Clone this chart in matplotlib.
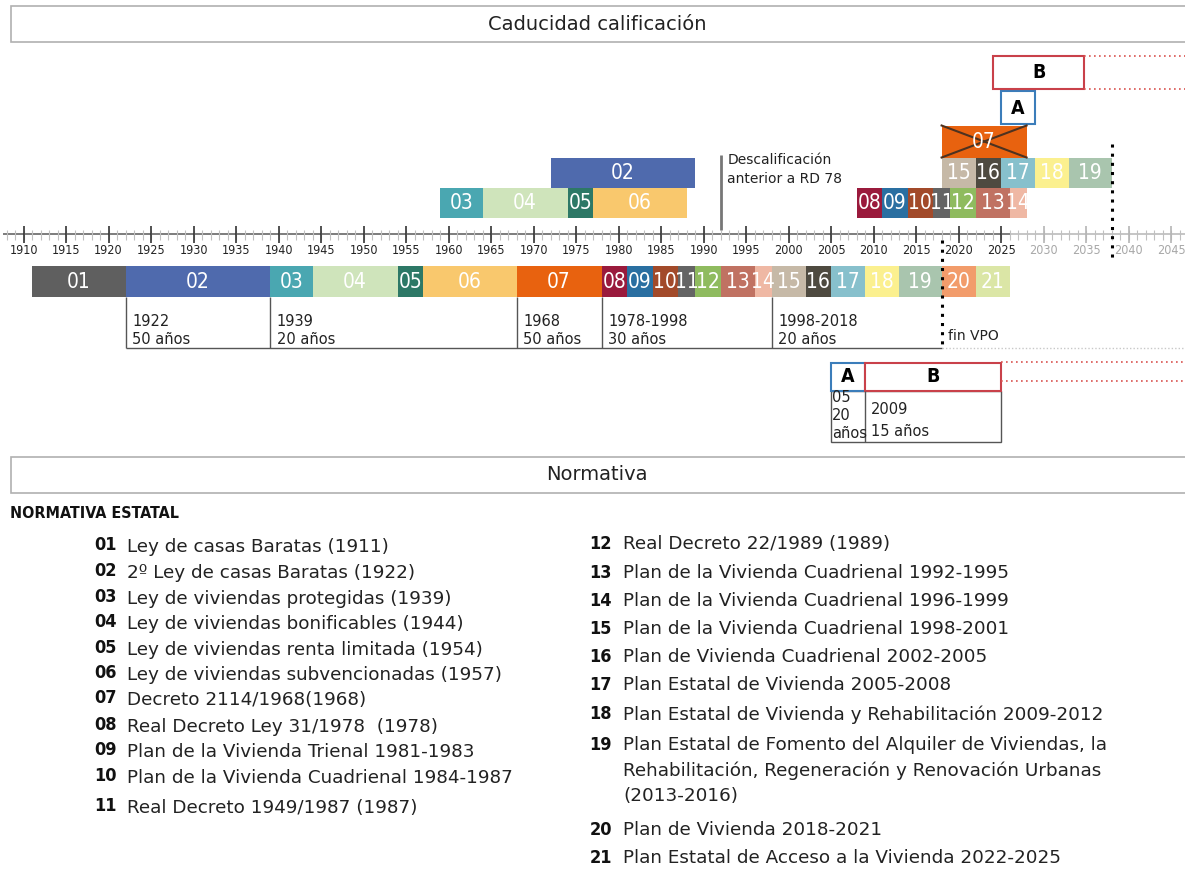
import matplotlib
matplotlib.use('Agg')
import matplotlib.pyplot as plt
from matplotlib.patches import Rectangle

# --- data -----------------------------------------------------------------
codes = ['01', '02', '03', '04', '05', '06', '07', '08', '09', '10', '11',
         '12', '13', '14', '15', '16', '17', '18', '19', '20', '21']
colors = ['#5f5f5f', '#4f6aad', '#4aa7b1', '#cfe4bb', '#2d7866', '#f9c86d',
          '#e8620f', '#9a1a3c', '#2a6fa1', '#a24a2a', '#646464', '#8fbb5f',
          '#c07262', '#efb8a4', '#c6b9a7', '#4e4a40', '#87c0cc', '#fbf08f',
          '#a9c5ae', '#f29c6b', '#dbe6a6']
starts = [1911, 1922, 1939, 1944, 1954, 1957, 1968, 1978, 1981, 1984, 1987,
          1989, 1992, 1996, 1998, 2002, 2005, 2009, 2013, 2018, 2022]
end_year = 2026

# expiry of qualification (upper rows)
row1_codes = ['03', '04', '05', '06', '08', '09', '10', '11', '12', '13', '14']
row1_start = [1959, 1964, 1974, 1977, 2008, 2011, 2014, 2017, 2019, 2022, 2026]
row1_end = [1964, 1974, 1977, 1988, 2011, 2014, 2017, 2019, 2022, 2026, 2028]
row2_codes = ['02', '15', '16', '17', '18', '19']
row2_start = [1972, 2018, 2022, 2025, 2029, 2033]
row2_end = [1989, 2022, 2025, 2029, 2033, 2038]
row3_codes = ['07']
row3_start = [2018]
row3_end = [2028]
a_span = (2025, 2029)
b_span = (2024.1, 2034.8)

bracket_years = [1922, 1939, 1968, 1978, 1998]
bracket_top = ['1922', '1939', '1968', '1978-1998', '1998-2018']
bracket_bot = ['50 años', '20 años', '50 años', '30 años', '20 años']
fin_vpo = 2018
descal_year = 1992
limit_year = 2038

tick_years = list(range(1910, 2046, 5))
minor_years = list(range(1908, 2047))

legend_left = ['Ley de casas Baratas (1911)',
               '2º Ley de casas Baratas (1922)',
               'Ley de viviendas protegidas (1939)',
               'Ley de viviendas bonificables (1944)',
               'Ley de viviendas renta limitada (1954)',
               'Ley de viviendas subvencionadas (1957)',
               'Decreto 2114/1968(1968)',
               'Real Decreto Ley 31/1978  (1978)',
               'Plan de la Vivienda Trienal 1981-1983',
               'Plan de la Vivienda Cuadrienal 1984-1987',
               'Real Decreto 1949/1987 (1987)']
legend_right = ['Real Decreto 22/1989 (1989)',
                'Plan de la Vivienda Cuadrienal 1992-1995',
                'Plan de la Vivienda Cuadrienal 1996-1999',
                'Plan de la Vivienda Cuadrienal 1998-2001',
                'Plan de Vivienda Cuadrienal 2002-2005',
                'Plan Estatal de Vivienda 2005-2008',
                'Plan Estatal de Vivienda y Rehabilitación 2009-2012',
                'Plan Estatal de Fomento del Alquiler de Viviendas, la\n'
                'Rehabilitación, Regeneración y Renovación Urbanas\n(2013-2016)',
                'Plan de Vivienda 2018-2021',
                'Plan Estatal de Acceso a la Vivienda 2022-2025']

col = dict(zip(codes, colors))
cond = dict(family='DejaVu Sans', fontstretch='condensed')

# --- figure ----------------------------------------------------------------
W, H = 1185, 874
fig = plt.figure(figsize=(W / 100, H / 100), dpi=100)
# layout axes in pixels
lay = fig.add_axes([0, 0, 1, 1])
lay.set_xlim(0, W)
lay.set_ylim(H, 0)
lay.axis('off')
# timeline axes: x in years, y in pixels
px_per_year = 8.5
x1910 = 23.6
ax = fig.add_axes([0, 0, 1, 1])
ax.set_xlim(1910 - x1910 / px_per_year, 1910 + (W - x1910) / px_per_year)
ax.set_ylim(H, 0)
ax.axis('off')
ax.patch.set_alpha(0)
xmax = ax.get_xlim()[1]

# header boxes
for y0, title in [(6, 'Caducidad calificación'), (457, 'Normativa')]:
    lay.add_patch(Rectangle((11, y0), 1200, 36, facecolor='white',
                            edgecolor='#b0b0b0', lw=1.2))
    lay.text(597, y0 + 18, title, ha='center', va='center', fontsize=14,
             color='#222222')

# axis
ax.hlines(234, 1907.6, 2026, color='#666666', lw=1.2)
ax.hlines(234, 2026, xmax, color='#bbbbbb', lw=1.2)
ax.vlines(minor_years, 230, 240, color='#c0c0c0', lw=0.8)
for yr in tick_years:
    c = '#333333' if yr <= 2025 else '#b5b5b5'
    ax.vlines(yr, 226, 243, color=c, lw=1.2)
    ax.text(yr, 250, str(yr), ha='center', va='center', fontsize=9,
            color='#222222' if yr <= 2025 else '#a8a8a8', **cond)

# bottom row: periods of each regulation
ends = starts[1:] + [end_year]
ax.barh(281.5, [e - s for s, e in zip(starts, ends)], left=starts,
        height=31, color=colors)
for c, s, e in zip(codes, starts, ends):
    ax.text((s + e) / 2, 282, c, ha='center', va='center', color='white',
            fontsize=15, **cond)


def draw_row(yc, cs, ss, es, h):
    ax.barh(yc, [e - s for s, e in zip(ss, es)], left=ss, height=h,
            color=[col[c] for c in cs])
    for c, s, e in zip(cs, ss, es):
        ax.text((s + e) / 2, yc + 0.5, c, ha='center', va='center',
                color='white', fontsize=15, **cond)


draw_row(202.5, row1_codes, row1_start, row1_end, 30)
draw_row(172.5, row2_codes, row2_start, row2_end, 30)
draw_row(141.5, row3_codes, row3_start, row3_end, 32)
# crossed out 07
ax.plot(row3_start + row3_end, [125.5, 157.5], color='#4d3220', lw=1.5)
ax.plot(row3_start + row3_end, [157.5, 125.5], color='#4d3220', lw=1.5)

# A and B boxes (upper)
ax.add_patch(Rectangle((a_span[0], 91), a_span[1] - a_span[0], 33,
                       facecolor='white', edgecolor='#3b7dba', lw=1.5))
ax.text(sum(a_span) / 2, 108, 'A', ha='center', va='center', fontsize=14,
        fontweight='bold', **cond)
ax.add_patch(Rectangle((b_span[0], 56), b_span[1] - b_span[0], 33,
                       facecolor='white', edgecolor='#c9414a', lw=1.5))
ax.text(sum(b_span) / 2, 73, 'B', ha='center', va='center', fontsize=14,
        fontweight='bold', **cond)
ax.hlines([56, 89], b_span[1], xmax, color='#d9534f', lw=1.2,
          linestyles=(0, (1, 2)))

# descalificacion line
ax.vlines(descal_year, 155, 230, color='#777777', lw=2)
ax.text(descal_year + 0.8, 160, 'Descalificación', va='center', fontsize=10,
        color='#222222')
ax.text(descal_year + 0.8, 179, 'anterior a RD 78', va='center',
        fontsize=10, color='#222222')

# dotted limits
ax.vlines(limit_year, 144, 258, color='black', lw=2.2, linestyles=(0, (1, 2)))
ax.vlines(fin_vpo, 240, 350, color='black', lw=2.2, linestyles=(0, (1, 2)))
ax.text(fin_vpo + 0.8, 336, 'fin VPO', va='center', fontsize=10,
        color='#222222')

# brackets under the bars
ax.vlines(bracket_years, 297, 348, color='#555555', lw=1)
ax.hlines(348, bracket_years[0], fin_vpo, color='#555555', lw=1)
ax.hlines(348, fin_vpo, xmax, color='#c8c8c8', lw=1, linestyles=(0, (1, 1.5)))
for yr, t1, t2 in zip(bracket_years, bracket_top, bracket_bot):
    ax.text(yr + 0.8, 321, t1, va='center', fontsize=10.5, color='#222222')
    ax.text(yr + 0.8, 340, t2, va='center', fontsize=10.5, color='#222222')

# lower A / B table
ax.add_patch(Rectangle((2005, 391), 20, 50.5, facecolor='none',
                       edgecolor='#555555', lw=1))
ax.vlines(2009, 391, 441.5, color='#555555', lw=1)
ax.add_patch(Rectangle((2005, 362.5), 4, 28.5, facecolor='white',
                       edgecolor='#3b7dba', lw=1.5))
ax.add_patch(Rectangle((2009, 362.5), 16, 28.5, facecolor='white',
                       edgecolor='#c9414a', lw=1.5))
ax.text(2007, 377, 'A', ha='center', va='center', fontsize=14,
        fontweight='bold', **cond)
ax.text(2017, 377, 'B', ha='center', va='center', fontsize=14,
        fontweight='bold', **cond)
ax.hlines([362, 381], 2025, xmax, color='#d9534f', lw=1.2,
          linestyles=(0, (1, 2)))
for yy, t in zip([398, 416, 434], ['05', '20', 'años']):
    ax.text(2005.1, yy, t, va='center', fontsize=10.5, color='#222222')
ax.text(2009.7, 410, '2009', va='center', fontsize=10.5, color='#222222')
ax.text(2009.7, 431, '15 años', va='center', fontsize=10.5, color='#222222')

# legend
lay.text(10, 514, 'NORMATIVA ESTATAL', va='center', fontsize=11.5,
         fontweight='bold', color='#111111', **cond)
left_y = [547, 573, 599, 624, 650, 675, 700, 727, 752, 778, 808]
right_y = [546, 575, 603, 631, 659, 687, 716, 747, 832, 860]
for c, t, yy in zip(codes[:11], legend_left, left_y):
    lay.text(117, yy - 2, c, ha='right', va='center', fontsize=13,
             fontweight='bold', color='#111111', **cond)
    lay.text(127, yy, t, va='center', fontsize=13.2, color='#222222')
for c, t, yy in zip(codes[11:], legend_right, right_y):
    lay.text(612, yy - 2, c, ha='right', va='center', fontsize=13,
             fontweight='bold', color='#111111', **cond)
    lay.text(623, yy - 11, t, va='top', fontsize=13.2, color='#222222',
             linespacing=1.5)

fig.savefig('out.png', dpi=100)
